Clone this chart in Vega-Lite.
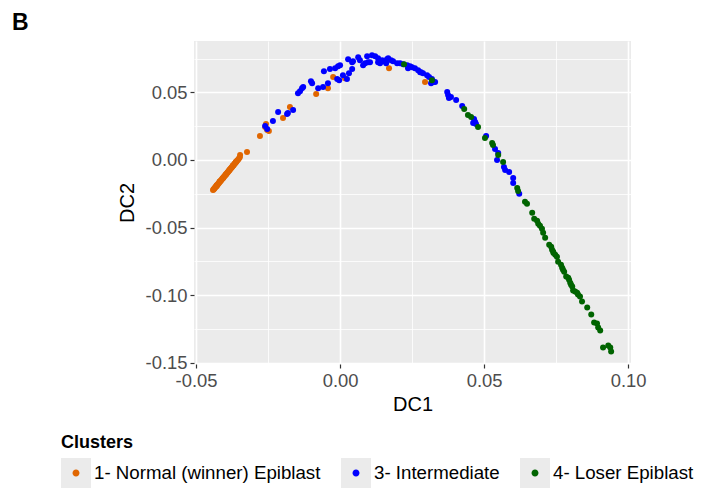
{
  "$schema": "https://vega.github.io/schema/vega-lite/v6.json",
  "width": 437,
  "height": 323,
  "autosize": {"type": "none"},
  "padding": {"left": 194, "top": 41, "right": 80, "bottom": 127},
  "background": "white",
  "title": {
    "text": "B",
    "anchor": "start",
    "frame": "group",
    "dx": -182,
    "dy": 24,
    "offset": 12,
    "fontSize": 23,
    "fontWeight": "bold",
    "font": "Liberation Sans",
    "color": "black",
    "baseline": "alphabetic"
  },
  "config": {
    "view": {"fill": "#EBEBEB", "stroke": null},
    "font": "Liberation Sans",
    "axis": {
      "domain": false,
      "gridColor": "white",
      "tickColor": "#333333",
      "tickSize": 4,
      "tickWidth": 1.2,
      "labelFont": "Liberation Sans",
      "labelFontSize": 18.4,
      "labelColor": "#4D4D4D",
      "labelPadding": 3,
      "labelFlush": false,
      "labelOverlap": false,
      "titleFont": "Liberation Sans",
      "titleFontSize": 20,
      "titleFontWeight": "normal",
      "titleColor": "black"
    }
  },
  "datasets": {
    "keys": [
      {"Cluster": "1- Normal (winner) Epiblast"},
      {"Cluster": "3- Intermediate"},
      {"Cluster": "4- Loser Epiblast"}
    ],
    "cells": [
      {"DC1": -0.0441, "DC2": -0.0222, "Cluster": "1- Normal (winner) Epiblast"},
      {"DC1": -0.0439, "DC2": -0.0218, "Cluster": "1- Normal (winner) Epiblast"},
      {"DC1": -0.0437, "DC2": -0.0214, "Cluster": "1- Normal (winner) Epiblast"},
      {"DC1": -0.0436, "DC2": -0.0209, "Cluster": "1- Normal (winner) Epiblast"},
      {"DC1": -0.0434, "DC2": -0.0206, "Cluster": "1- Normal (winner) Epiblast"},
      {"DC1": -0.0432, "DC2": -0.0199, "Cluster": "1- Normal (winner) Epiblast"},
      {"DC1": -0.0430, "DC2": -0.0196, "Cluster": "1- Normal (winner) Epiblast"},
      {"DC1": -0.0429, "DC2": -0.0190, "Cluster": "1- Normal (winner) Epiblast"},
      {"DC1": -0.0428, "DC2": -0.0192, "Cluster": "1- Normal (winner) Epiblast"},
      {"DC1": -0.0427, "DC2": -0.0186, "Cluster": "1- Normal (winner) Epiblast"},
      {"DC1": -0.0425, "DC2": -0.0183, "Cluster": "1- Normal (winner) Epiblast"},
      {"DC1": -0.0423, "DC2": -0.0176, "Cluster": "1- Normal (winner) Epiblast"},
      {"DC1": -0.0421, "DC2": -0.0172, "Cluster": "1- Normal (winner) Epiblast"},
      {"DC1": -0.0419, "DC2": -0.0166, "Cluster": "1- Normal (winner) Epiblast"},
      {"DC1": -0.0418, "DC2": -0.0160, "Cluster": "1- Normal (winner) Epiblast"},
      {"DC1": -0.0417, "DC2": -0.0162, "Cluster": "1- Normal (winner) Epiblast"},
      {"DC1": -0.0415, "DC2": -0.0155, "Cluster": "1- Normal (winner) Epiblast"},
      {"DC1": -0.0413, "DC2": -0.0150, "Cluster": "1- Normal (winner) Epiblast"},
      {"DC1": -0.0411, "DC2": -0.0146, "Cluster": "1- Normal (winner) Epiblast"},
      {"DC1": -0.0409, "DC2": -0.0139, "Cluster": "1- Normal (winner) Epiblast"},
      {"DC1": -0.0407, "DC2": -0.0135, "Cluster": "1- Normal (winner) Epiblast"},
      {"DC1": -0.0406, "DC2": -0.0131, "Cluster": "1- Normal (winner) Epiblast"},
      {"DC1": -0.0405, "DC2": -0.0131, "Cluster": "1- Normal (winner) Epiblast"},
      {"DC1": -0.0403, "DC2": -0.0125, "Cluster": "1- Normal (winner) Epiblast"},
      {"DC1": -0.0401, "DC2": -0.0119, "Cluster": "1- Normal (winner) Epiblast"},
      {"DC1": -0.0399, "DC2": -0.0115, "Cluster": "1- Normal (winner) Epiblast"},
      {"DC1": -0.0397, "DC2": -0.0110, "Cluster": "1- Normal (winner) Epiblast"},
      {"DC1": -0.0396, "DC2": -0.0106, "Cluster": "1- Normal (winner) Epiblast"},
      {"DC1": -0.0395, "DC2": -0.0104, "Cluster": "1- Normal (winner) Epiblast"},
      {"DC1": -0.0393, "DC2": -0.0100, "Cluster": "1- Normal (winner) Epiblast"},
      {"DC1": -0.0391, "DC2": -0.0093, "Cluster": "1- Normal (winner) Epiblast"},
      {"DC1": -0.0389, "DC2": -0.0089, "Cluster": "1- Normal (winner) Epiblast"},
      {"DC1": -0.0387, "DC2": -0.0083, "Cluster": "1- Normal (winner) Epiblast"},
      {"DC1": -0.0385, "DC2": -0.0079, "Cluster": "1- Normal (winner) Epiblast"},
      {"DC1": -0.0384, "DC2": -0.0074, "Cluster": "1- Normal (winner) Epiblast"},
      {"DC1": -0.0383, "DC2": -0.0073, "Cluster": "1- Normal (winner) Epiblast"},
      {"DC1": -0.0381, "DC2": -0.0068, "Cluster": "1- Normal (winner) Epiblast"},
      {"DC1": -0.0379, "DC2": -0.0062, "Cluster": "1- Normal (winner) Epiblast"},
      {"DC1": -0.0377, "DC2": -0.0058, "Cluster": "1- Normal (winner) Epiblast"},
      {"DC1": -0.0375, "DC2": -0.0052, "Cluster": "1- Normal (winner) Epiblast"},
      {"DC1": -0.0373, "DC2": -0.0047, "Cluster": "1- Normal (winner) Epiblast"},
      {"DC1": -0.0372, "DC2": -0.0042, "Cluster": "1- Normal (winner) Epiblast"},
      {"DC1": -0.0371, "DC2": -0.0041, "Cluster": "1- Normal (winner) Epiblast"},
      {"DC1": -0.0369, "DC2": -0.0037, "Cluster": "1- Normal (winner) Epiblast"},
      {"DC1": -0.0367, "DC2": -0.0031, "Cluster": "1- Normal (winner) Epiblast"},
      {"DC1": -0.0365, "DC2": -0.0026, "Cluster": "1- Normal (winner) Epiblast"},
      {"DC1": -0.0363, "DC2": -0.0020, "Cluster": "1- Normal (winner) Epiblast"},
      {"DC1": -0.0362, "DC2": -0.0016, "Cluster": "1- Normal (winner) Epiblast"},
      {"DC1": -0.0361, "DC2": -0.0015, "Cluster": "1- Normal (winner) Epiblast"},
      {"DC1": -0.0359, "DC2": -0.0010, "Cluster": "1- Normal (winner) Epiblast"},
      {"DC1": -0.0357, "DC2": -0.0004, "Cluster": "1- Normal (winner) Epiblast"},
      {"DC1": -0.0354, "DC2": 0.0002, "Cluster": "1- Normal (winner) Epiblast"},
      {"DC1": -0.0351, "DC2": 0.0010, "Cluster": "1- Normal (winner) Epiblast"},
      {"DC1": -0.0348, "DC2": 0.0019, "Cluster": "1- Normal (winner) Epiblast"},
      {"DC1": -0.0347, "DC2": 0.0037, "Cluster": "1- Normal (winner) Epiblast"},
      {"DC1": -0.0323, "DC2": 0.0059, "Cluster": "1- Normal (winner) Epiblast"},
      {"DC1": -0.0278, "DC2": 0.0177, "Cluster": "1- Normal (winner) Epiblast"},
      {"DC1": -0.0260, "DC2": 0.0244, "Cluster": "1- Normal (winner) Epiblast"},
      {"DC1": -0.0253, "DC2": 0.0221, "Cluster": "1- Normal (winner) Epiblast"},
      {"DC1": -0.0247, "DC2": 0.0214, "Cluster": "1- Normal (winner) Epiblast"},
      {"DC1": -0.0257, "DC2": 0.0266, "Cluster": "1- Normal (winner) Epiblast"},
      {"DC1": -0.0198, "DC2": 0.0310, "Cluster": "1- Normal (winner) Epiblast"},
      {"DC1": -0.0174, "DC2": 0.0391, "Cluster": "1- Normal (winner) Epiblast"},
      {"DC1": -0.0083, "DC2": 0.0487, "Cluster": "1- Normal (winner) Epiblast"},
      {"DC1": -0.0042, "DC2": 0.0531, "Cluster": "1- Normal (winner) Epiblast"},
      {"DC1": -0.0024, "DC2": 0.0613, "Cluster": "1- Normal (winner) Epiblast"},
      {"DC1": 0.0017, "DC2": 0.0605, "Cluster": "1- Normal (winner) Epiblast"},
      {"DC1": 0.0170, "DC2": 0.0679, "Cluster": "1- Normal (winner) Epiblast"},
      {"DC1": 0.0295, "DC2": 0.0576, "Cluster": "1- Normal (winner) Epiblast"},
      {"DC1": -0.0253, "DC2": 0.0229, "Cluster": "3- Intermediate"},
      {"DC1": -0.0260, "DC2": 0.0251, "Cluster": "3- Intermediate"},
      {"DC1": -0.0233, "DC2": 0.0288, "Cluster": "3- Intermediate"},
      {"DC1": -0.0215, "DC2": 0.0354, "Cluster": "3- Intermediate"},
      {"DC1": -0.0184, "DC2": 0.0339, "Cluster": "3- Intermediate"},
      {"DC1": -0.0181, "DC2": 0.0347, "Cluster": "3- Intermediate"},
      {"DC1": -0.0163, "DC2": 0.0369, "Cluster": "3- Intermediate"},
      {"DC1": -0.0146, "DC2": 0.0494, "Cluster": "3- Intermediate"},
      {"DC1": -0.0139, "DC2": 0.0509, "Cluster": "3- Intermediate"},
      {"DC1": -0.0132, "DC2": 0.0531, "Cluster": "3- Intermediate"},
      {"DC1": -0.0128, "DC2": 0.0539, "Cluster": "3- Intermediate"},
      {"DC1": -0.0101, "DC2": 0.0583, "Cluster": "3- Intermediate"},
      {"DC1": -0.0097, "DC2": 0.0568, "Cluster": "3- Intermediate"},
      {"DC1": -0.0076, "DC2": 0.0531, "Cluster": "3- Intermediate"},
      {"DC1": -0.0059, "DC2": 0.0539, "Cluster": "3- Intermediate"},
      {"DC1": -0.0042, "DC2": 0.0568, "Cluster": "3- Intermediate"},
      {"DC1": -0.0056, "DC2": 0.0657, "Cluster": "3- Intermediate"},
      {"DC1": -0.0035, "DC2": 0.0672, "Cluster": "3- Intermediate"},
      {"DC1": -0.0017, "DC2": 0.0679, "Cluster": "3- Intermediate"},
      {"DC1": -0.0007, "DC2": 0.0694, "Cluster": "3- Intermediate"},
      {"DC1": 0.0000, "DC2": 0.0701, "Cluster": "3- Intermediate"},
      {"DC1": -0.0010, "DC2": 0.0598, "Cluster": "3- Intermediate"},
      {"DC1": -0.0003, "DC2": 0.0590, "Cluster": "3- Intermediate"},
      {"DC1": 0.0010, "DC2": 0.0627, "Cluster": "3- Intermediate"},
      {"DC1": 0.0024, "DC2": 0.0598, "Cluster": "3- Intermediate"},
      {"DC1": 0.0031, "DC2": 0.0642, "Cluster": "3- Intermediate"},
      {"DC1": 0.0042, "DC2": 0.0672, "Cluster": "3- Intermediate"},
      {"DC1": 0.0028, "DC2": 0.0745, "Cluster": "3- Intermediate"},
      {"DC1": 0.0042, "DC2": 0.0723, "Cluster": "3- Intermediate"},
      {"DC1": 0.0045, "DC2": 0.0731, "Cluster": "3- Intermediate"},
      {"DC1": 0.0063, "DC2": 0.0760, "Cluster": "3- Intermediate"},
      {"DC1": 0.0069, "DC2": 0.0738, "Cluster": "3- Intermediate"},
      {"DC1": 0.0080, "DC2": 0.0701, "Cluster": "3- Intermediate"},
      {"DC1": 0.0087, "DC2": 0.0716, "Cluster": "3- Intermediate"},
      {"DC1": 0.0097, "DC2": 0.0723, "Cluster": "3- Intermediate"},
      {"DC1": 0.0104, "DC2": 0.0723, "Cluster": "3- Intermediate"},
      {"DC1": 0.0094, "DC2": 0.0768, "Cluster": "3- Intermediate"},
      {"DC1": 0.0111, "DC2": 0.0775, "Cluster": "3- Intermediate"},
      {"DC1": 0.0122, "DC2": 0.0768, "Cluster": "3- Intermediate"},
      {"DC1": 0.0132, "DC2": 0.0753, "Cluster": "3- Intermediate"},
      {"DC1": 0.0146, "DC2": 0.0738, "Cluster": "3- Intermediate"},
      {"DC1": 0.0153, "DC2": 0.0731, "Cluster": "3- Intermediate"},
      {"DC1": 0.0163, "DC2": 0.0745, "Cluster": "3- Intermediate"},
      {"DC1": 0.0167, "DC2": 0.0753, "Cluster": "3- Intermediate"},
      {"DC1": 0.0177, "DC2": 0.0738, "Cluster": "3- Intermediate"},
      {"DC1": 0.0184, "DC2": 0.0731, "Cluster": "3- Intermediate"},
      {"DC1": 0.0132, "DC2": 0.0723, "Cluster": "3- Intermediate"},
      {"DC1": 0.0139, "DC2": 0.0716, "Cluster": "3- Intermediate"},
      {"DC1": 0.0160, "DC2": 0.0716, "Cluster": "3- Intermediate"},
      {"DC1": 0.0198, "DC2": 0.0716, "Cluster": "3- Intermediate"},
      {"DC1": 0.0208, "DC2": 0.0716, "Cluster": "3- Intermediate"},
      {"DC1": 0.0219, "DC2": 0.0708, "Cluster": "3- Intermediate"},
      {"DC1": 0.0233, "DC2": 0.0701, "Cluster": "3- Intermediate"},
      {"DC1": 0.0236, "DC2": 0.0679, "Cluster": "3- Intermediate"},
      {"DC1": 0.0243, "DC2": 0.0694, "Cluster": "3- Intermediate"},
      {"DC1": 0.0250, "DC2": 0.0686, "Cluster": "3- Intermediate"},
      {"DC1": 0.0260, "DC2": 0.0679, "Cluster": "3- Intermediate"},
      {"DC1": 0.0271, "DC2": 0.0664, "Cluster": "3- Intermediate"},
      {"DC1": 0.0278, "DC2": 0.0649, "Cluster": "3- Intermediate"},
      {"DC1": 0.0281, "DC2": 0.0649, "Cluster": "3- Intermediate"},
      {"DC1": 0.0288, "DC2": 0.0642, "Cluster": "3- Intermediate"},
      {"DC1": 0.0302, "DC2": 0.0627, "Cluster": "3- Intermediate"},
      {"DC1": 0.0309, "DC2": 0.0613, "Cluster": "3- Intermediate"},
      {"DC1": 0.0319, "DC2": 0.0598, "Cluster": "3- Intermediate"},
      {"DC1": 0.0323, "DC2": 0.0576, "Cluster": "3- Intermediate"},
      {"DC1": 0.0330, "DC2": 0.0576, "Cluster": "3- Intermediate"},
      {"DC1": 0.0316, "DC2": 0.0568, "Cluster": "3- Intermediate"},
      {"DC1": 0.0372, "DC2": 0.0502, "Cluster": "3- Intermediate"},
      {"DC1": 0.0375, "DC2": 0.0480, "Cluster": "3- Intermediate"},
      {"DC1": 0.0378, "DC2": 0.0458, "Cluster": "3- Intermediate"},
      {"DC1": 0.0385, "DC2": 0.0465, "Cluster": "3- Intermediate"},
      {"DC1": 0.0403, "DC2": 0.0443, "Cluster": "3- Intermediate"},
      {"DC1": 0.0424, "DC2": 0.0399, "Cluster": "3- Intermediate"},
      {"DC1": 0.0465, "DC2": 0.0303, "Cluster": "3- Intermediate"},
      {"DC1": 0.0469, "DC2": 0.0280, "Cluster": "3- Intermediate"},
      {"DC1": 0.0462, "DC2": 0.0273, "Cluster": "3- Intermediate"},
      {"DC1": 0.0472, "DC2": 0.0266, "Cluster": "3- Intermediate"},
      {"DC1": 0.0507, "DC2": 0.0177, "Cluster": "3- Intermediate"},
      {"DC1": 0.0538, "DC2": 0.0081, "Cluster": "3- Intermediate"},
      {"DC1": 0.0549, "DC2": 0.0052, "Cluster": "3- Intermediate"},
      {"DC1": 0.0545, "DC2": 0.0000, "Cluster": "3- Intermediate"},
      {"DC1": 0.0569, "DC2": -0.0052, "Cluster": "3- Intermediate"},
      {"DC1": 0.0573, "DC2": -0.0074, "Cluster": "3- Intermediate"},
      {"DC1": 0.0587, "DC2": -0.0089, "Cluster": "3- Intermediate"},
      {"DC1": 0.0601, "DC2": -0.0133, "Cluster": "3- Intermediate"},
      {"DC1": 0.0601, "DC2": -0.0170, "Cluster": "3- Intermediate"},
      {"DC1": 0.0622, "DC2": -0.0251, "Cluster": "3- Intermediate"},
      {"DC1": 0.0222, "DC2": 0.0708, "Cluster": "4- Loser Epiblast"},
      {"DC1": 0.0319, "DC2": 0.0590, "Cluster": "4- Loser Epiblast"},
      {"DC1": 0.0431, "DC2": 0.0376, "Cluster": "4- Loser Epiblast"},
      {"DC1": 0.0444, "DC2": 0.0332, "Cluster": "4- Loser Epiblast"},
      {"DC1": 0.0455, "DC2": 0.0317, "Cluster": "4- Loser Epiblast"},
      {"DC1": 0.0479, "DC2": 0.0244, "Cluster": "4- Loser Epiblast"},
      {"DC1": 0.0503, "DC2": 0.0162, "Cluster": "4- Loser Epiblast"},
      {"DC1": 0.0528, "DC2": 0.0125, "Cluster": "4- Loser Epiblast"},
      {"DC1": 0.0531, "DC2": 0.0111, "Cluster": "4- Loser Epiblast"},
      {"DC1": 0.0549, "DC2": 0.0037, "Cluster": "4- Loser Epiblast"},
      {"DC1": 0.0566, "DC2": -0.0015, "Cluster": "4- Loser Epiblast"},
      {"DC1": 0.0615, "DC2": -0.0207, "Cluster": "4- Loser Epiblast"},
      {"DC1": 0.0618, "DC2": -0.0229, "Cluster": "4- Loser Epiblast"},
      {"DC1": 0.0642, "DC2": -0.0310, "Cluster": "4- Loser Epiblast"},
      {"DC1": 0.0649, "DC2": -0.0325, "Cluster": "4- Loser Epiblast"},
      {"DC1": 0.0667, "DC2": -0.0391, "Cluster": "4- Loser Epiblast"},
      {"DC1": 0.0674, "DC2": -0.0435, "Cluster": "4- Loser Epiblast"},
      {"DC1": 0.0684, "DC2": -0.0450, "Cluster": "4- Loser Epiblast"},
      {"DC1": 0.0688, "DC2": -0.0472, "Cluster": "4- Loser Epiblast"},
      {"DC1": 0.0694, "DC2": -0.0487, "Cluster": "4- Loser Epiblast"},
      {"DC1": 0.0701, "DC2": -0.0509, "Cluster": "4- Loser Epiblast"},
      {"DC1": 0.0705, "DC2": -0.0539, "Cluster": "4- Loser Epiblast"},
      {"DC1": 0.0712, "DC2": -0.0576, "Cluster": "4- Loser Epiblast"},
      {"DC1": 0.0726, "DC2": -0.0627, "Cluster": "4- Loser Epiblast"},
      {"DC1": 0.0733, "DC2": -0.0642, "Cluster": "4- Loser Epiblast"},
      {"DC1": 0.0736, "DC2": -0.0664, "Cluster": "4- Loser Epiblast"},
      {"DC1": 0.0740, "DC2": -0.0679, "Cluster": "4- Loser Epiblast"},
      {"DC1": 0.0741, "DC2": -0.0688, "Cluster": "4- Loser Epiblast"},
      {"DC1": 0.0747, "DC2": -0.0701, "Cluster": "4- Loser Epiblast"},
      {"DC1": 0.0753, "DC2": -0.0716, "Cluster": "4- Loser Epiblast"},
      {"DC1": 0.0757, "DC2": -0.0753, "Cluster": "4- Loser Epiblast"},
      {"DC1": 0.0767, "DC2": -0.0775, "Cluster": "4- Loser Epiblast"},
      {"DC1": 0.0771, "DC2": -0.0797, "Cluster": "4- Loser Epiblast"},
      {"DC1": 0.0774, "DC2": -0.0812, "Cluster": "4- Loser Epiblast"},
      {"DC1": 0.0778, "DC2": -0.0827, "Cluster": "4- Loser Epiblast"},
      {"DC1": 0.0785, "DC2": -0.0863, "Cluster": "4- Loser Epiblast"},
      {"DC1": 0.0792, "DC2": -0.0871, "Cluster": "4- Loser Epiblast"},
      {"DC1": 0.0795, "DC2": -0.0886, "Cluster": "4- Loser Epiblast"},
      {"DC1": 0.0799, "DC2": -0.0908, "Cluster": "4- Loser Epiblast"},
      {"DC1": 0.0802, "DC2": -0.0923, "Cluster": "4- Loser Epiblast"},
      {"DC1": 0.0806, "DC2": -0.0937, "Cluster": "4- Loser Epiblast"},
      {"DC1": 0.0809, "DC2": -0.0967, "Cluster": "4- Loser Epiblast"},
      {"DC1": 0.0816, "DC2": -0.0974, "Cluster": "4- Loser Epiblast"},
      {"DC1": 0.0823, "DC2": -0.0982, "Cluster": "4- Loser Epiblast"},
      {"DC1": 0.0826, "DC2": -0.0996, "Cluster": "4- Loser Epiblast"},
      {"DC1": 0.0833, "DC2": -0.1011, "Cluster": "4- Loser Epiblast"},
      {"DC1": 0.0840, "DC2": -0.1048, "Cluster": "4- Loser Epiblast"},
      {"DC1": 0.0858, "DC2": -0.1092, "Cluster": "4- Loser Epiblast"},
      {"DC1": 0.0872, "DC2": -0.1144, "Cluster": "4- Loser Epiblast"},
      {"DC1": 0.0882, "DC2": -0.1203, "Cluster": "4- Loser Epiblast"},
      {"DC1": 0.0892, "DC2": -0.1210, "Cluster": "4- Loser Epiblast"},
      {"DC1": 0.0896, "DC2": -0.1240, "Cluster": "4- Loser Epiblast"},
      {"DC1": 0.0903, "DC2": -0.1262, "Cluster": "4- Loser Epiblast"},
      {"DC1": 0.0913, "DC2": -0.1387, "Cluster": "4- Loser Epiblast"},
      {"DC1": 0.0931, "DC2": -0.1373, "Cluster": "4- Loser Epiblast"},
      {"DC1": 0.0938, "DC2": -0.1387, "Cluster": "4- Loser Epiblast"},
      {"DC1": 0.0941, "DC2": -0.1417, "Cluster": "4- Loser Epiblast"}
    ]
  },
  "layer": [
    {
      "data": {"name": "keys"},
      "mark": {"type": "square", "size": 0},
      "encoding": {
        "color": {
          "field": "Cluster",
          "type": "nominal",
          "scale": {"range": ["#EBEBEB", "#EBEBEB", "#EBEBEB"]},
          "legend": {
            "orient": "none",
            "legendX": -133,
            "legendY": 393,
            "direction": "horizontal",
            "padding": 0,
            "title": "Clusters",
            "titleColor": "transparent",
            "titleFont": "Liberation Sans",
            "titleFontSize": 18,
            "titleFontWeight": "bold",
            "titlePadding": 6,
            "labelColor": "transparent",
            "labelFont": "Liberation Sans",
            "labelFontSize": 18.7,
            "labelOffset": 3,
            "labelLimit": 400,
            "columnPadding": 20,
            "symbolType": "square",
            "symbolSize": 900,
            "symbolStrokeWidth": 0,
            "symbolOpacity": 1
          }
        }
      }
    },
    {
      "data": {"name": "cells"},
      "mark": {"type": "circle", "size": 36, "opacity": 1},
      "encoding": {
        "x": {
          "field": "DC1",
          "type": "quantitative",
          "scale": {"domain": [-0.0507, 0.101], "nice": false, "zero": false},
          "axis": {
            "title": "DC1",
            "titlePadding": 5,
            "values": [-0.05, -0.025, 0, 0.025, 0.05, 0.075, 0.1],
            "labelExpr": "abs(datum.value * 20 - round(datum.value * 20)) > 0.01 ? '' : replace(format(datum.value, '.2f'), '−', '-')",
            "gridWidth": {"condition": {"test": "abs(datum.value * 20 - round(datum.value * 20)) > 0.01", "value": 0.8}, "value": 1.6},
            "tickOpacity": {"condition": {"test": "abs(datum.value * 20 - round(datum.value * 20)) > 0.01", "value": 0}, "value": 1}
          }
        },
        "y": {
          "field": "DC2",
          "type": "quantitative",
          "scale": {"domain": [-0.151, 0.088], "nice": false, "zero": false},
          "axis": {
            "title": "DC2",
            "titlePadding": 8,
            "values": [-0.15, -0.125, -0.1, -0.075, -0.05, -0.025, 0, 0.025, 0.05, 0.075],
            "labelExpr": "abs(datum.value * 20 - round(datum.value * 20)) > 0.01 ? '' : replace(format(datum.value, '.2f'), '−', '-')",
            "gridWidth": {"condition": {"test": "abs(datum.value * 20 - round(datum.value * 20)) > 0.01", "value": 0.8}, "value": 1.6},
            "tickOpacity": {"condition": {"test": "abs(datum.value * 20 - round(datum.value * 20)) > 0.01", "value": 0}, "value": 1}
          }
        },
        "fill": {
          "field": "Cluster",
          "type": "nominal",
          "scale": {
            "domain": ["1- Normal (winner) Epiblast", "3- Intermediate", "4- Loser Epiblast"],
            "range": ["#E06600", "#0000FF", "#006400"]
          },
          "legend": {
            "orient": "none",
            "legendX": -133,
            "legendY": 393,
            "direction": "horizontal",
            "padding": 0,
            "title": "Clusters",
            "titleColor": "black",
            "titleFont": "Liberation Sans",
            "titleFontSize": 18,
            "titleFontWeight": "bold",
            "titlePadding": 6,
            "labelColor": "black",
            "labelFont": "Liberation Sans",
            "labelFontSize": 18.7,
            "labelOffset": 3,
            "labelLimit": 400,
            "columnPadding": 20,
            "symbolType": "M-1,-1M1,1M-0.233,0A0.233,0.233,0,1,1,0.233,0A0.233,0.233,0,1,1,-0.233,0Z",
            "symbolSize": 900,
            "symbolStrokeWidth": 0,
            "symbolOpacity": 1
          }
        }
      }
    }
  ]
}
